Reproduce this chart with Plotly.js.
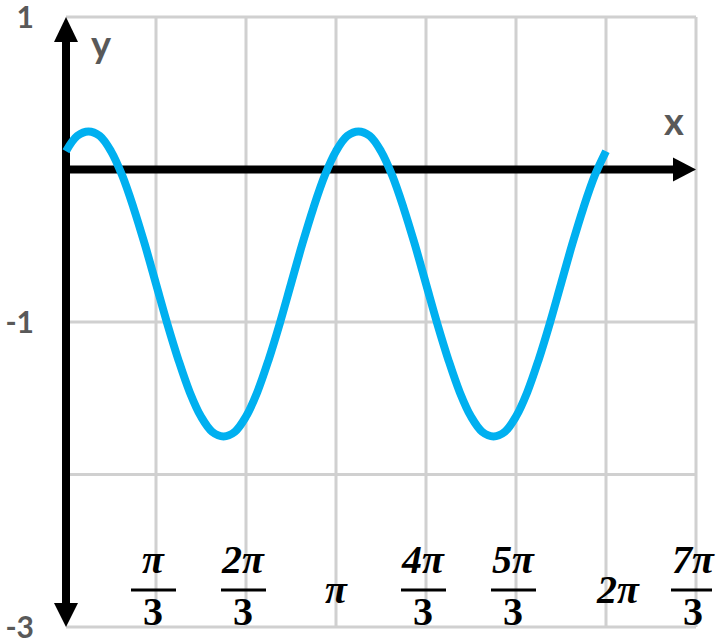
<!DOCTYPE html>
<html>
<head>
<meta charset="utf-8">
<script src="https://cdn.plot.ly/plotly-3.0.1.min.js"></script>
<style>html,body{margin:0;padding:0;background:#fff;}#chart{width:725px;height:644px;}</style>
</head>
<body>
<div id="chart"></div>
<script>
// curve samples: x in steps of pi/24, y
var xSteps = [0,1,2,3,4,5,6,7,8,9,10,11,12,13,14,15,16,17,18,19,20,21,22,23,24,
              25,26,27,28,29,30,31,32,33,34,35,36,37,38,39,40,41,42,43,44,45,46,47,48];
var yValues = [0.12,0.22,0.25,0.22,0.12,-0.04,-0.25,-0.49,-0.75,-1.01,-1.25,-1.46,-1.62,-1.72,-1.75,-1.72,-1.62,-1.46,-1.25,-1.01,-0.75,-0.49,-0.25,-0.04,
               0.12,0.22,0.25,0.22,0.12,-0.04,-0.25,-0.49,-0.75,-1.01,-1.25,-1.46,-1.62,-1.72,-1.75,-1.72,-1.62,-1.46,-1.25,-1.01,-0.75,-0.49,-0.25,-0.04,0.12];

// x ticks in multiples of pi/3
var xTickMult = [1,2,3,4,5,6,7];
var fracNum = ['π','2π','π','4π','5π','2π','7π'];
var fracDen = ['3','3','','3','3','','3'];
var yTickVals = [-3,-2,-1,0,1];
var yTickText = ['-3','','-1','','1'];

var PI = Math.PI;
var xs = xSteps.map(function(k){return k*PI/24;});
var xTicks = xTickMult.map(function(m){return m*PI/3;});
var xMin = 0, xMax = 7*PI/3, yMin = -3, yMax = 1;

// visible frame in pixels, plus a small padding so edge marks are not clipped
var frameL = 66, frameR = 696, frameT = 17, frameB = 627, padPx = 16;
var W = 725, H = 644;
var xPerPx = (xMax - xMin) / (frameR - frameL);
var yPerPx = (yMax - yMin) / (frameB - frameT);
var xRange = [xMin - padPx * xPerPx, xMax + padPx * xPerPx];
var yRange = [yMin - padPx * yPerPx, yMax + padPx * yPerPx];

var trace = {
  x: xs, y: yValues, type: 'scatter', mode: 'lines',
  line: {color: 'rgb(0,176,240)', width: 8, shape: 'spline', smoothing: 1},
  hoverinfo: 'skip'
};

var gridColor = '#d0d0d0';
var shapes = [];
// grid limited to the frame
xTicks.forEach(function(xv){
  shapes.push({type:'line', xref:'x', yref:'y', x0:xv, x1:xv, y0:yMin, y1:yMax, line:{color:gridColor, width:3}, layer:'below'});
});
yTickVals.forEach(function(yv){
  shapes.push({type:'line', xref:'x', yref:'y', x0:xMin, x1:xMax, y0:yv, y1:yv, line:{color:gridColor, width:3}, layer:'below'});
});
// axes with arrowheads
shapes.push(
  {type:'line', xref:'x', yref:'y', x0:0, x1:0, y0:yMin + 0.12, y1:yMax - 0.12, line:{color:'#000', width:8}, layer:'below'},
  {type:'line', xref:'x', yref:'y', x0:0, x1:xMax - 0.2, y0:0, y1:0, line:{color:'#000', width:8}, layer:'below'},
  {type:'path', xref:'x', yref:'y', xsizemode:'pixel', ysizemode:'pixel', xanchor:0, yanchor:yMax,
   path:'M0,0 L-12,-25 L12,-25 Z', fillcolor:'#000', line:{width:0}, layer:'below'},
  {type:'path', xref:'x', yref:'y', xsizemode:'pixel', ysizemode:'pixel', xanchor:0, yanchor:yMin,
   path:'M0,0 L-12,24 L12,24 Z', fillcolor:'#000', line:{width:0}, layer:'below'},
  {type:'path', xref:'x', yref:'y', xsizemode:'pixel', ysizemode:'pixel', xanchor:xMax, yanchor:0,
   path:'M0,0 L-23,12 L-23,-12 Z', fillcolor:'#000', line:{width:0}, layer:'below'}
);

var annotations = [];
var fracFont = {family:'Liberation Serif, DejaVu Serif, serif', size:40, color:'#000'};
xTicks.forEach(function(xv, i){
  var shift = (fracNum[i] === '2π' && fracDen[i] === '') ? 12 : 0;
  if (fracDen[i] === '') {
    annotations.push({x:xv, y:-2.757, xref:'x', yref:'y', text:'<b><i>'+fracNum[i]+'</i></b>', showarrow:false,
      font:fracFont, xanchor:'center', yanchor:'middle', xshift:shift});
  } else {
    annotations.push({x:xv, y:-2.56, xref:'x', yref:'y', text:'<b><i>'+fracNum[i]+'</i></b>', showarrow:false,
      font:fracFont, xanchor:'center', yanchor:'middle', xshift:-3});
    annotations.push({x:xv, y:-2.9, xref:'x', yref:'y', text:'<b>'+fracDen[i]+'</b>', showarrow:false,
      font:fracFont, xanchor:'center', yanchor:'middle', xshift:-3});
    shapes.push({type:'line', xref:'x', yref:'y', xsizemode:'pixel', xanchor:xv, x0:-25, x1:20, y0:-2.757, y1:-2.757,
      line:{color:'#000', width:3}, layer:'above'});
  }
});
annotations.push({x:0, y:yMax, xref:'x', yref:'y', text:'<b>y</b>', showarrow:false,
  font:{family:'Lato, Open Sans, sans-serif', size:38, color:'#595959'}, xanchor:'center', yanchor:'middle', xshift:35, yshift:-26});
annotations.push({x:xMax, y:0, xref:'x', yref:'y', text:'<b>x</b>', showarrow:false,
  font:{family:'Lato, Open Sans, sans-serif', size:38, color:'#595959'}, xanchor:'center', yanchor:'middle', xshift:-22, yshift:50});

var layout = {
  width:W, height:H,
  margin:{l:frameL - padPx, r:W - frameR - padPx, t:Math.max(0, frameT - padPx), b:Math.max(0, H - frameB - padPx), pad:0},
  paper_bgcolor:'#fff', plot_bgcolor:'rgba(0,0,0,0)',
  showlegend:false,
  xaxis:{range:xRange, showticklabels:false, showgrid:false,
         zeroline:false, showline:false, ticks:'', fixedrange:true},
  yaxis:{range:yRange, tickvals:yTickVals, ticktext:yTickText, showgrid:false,
         zeroline:false, showline:false, ticks:'outside', ticklen:9, tickcolor:'rgba(0,0,0,0)', ticklabeloverflow:'allow',
         tickfont:{family:'Lato, Open Sans, sans-serif', size:30, color:'#595959', weight:'bold'}, fixedrange:true},
  shapes:shapes,
  annotations:annotations
};
Plotly.newPlot('chart', [trace], layout, {displayModeBar:false, staticPlot:true});
</script>
</body>
</html>
